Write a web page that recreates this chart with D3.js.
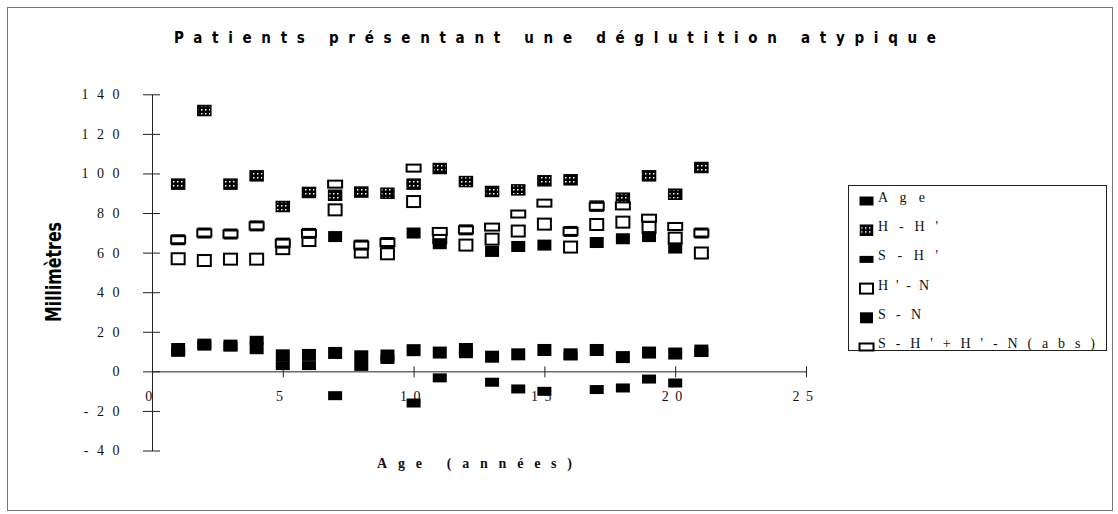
<!DOCTYPE html>
<meta charset="utf-8">
<style>
body { margin: 0; background: #fff; }
svg { display: block; }
.axis path, .axis line { stroke: #222; }
.tick text { font-family: "Liberation Serif", "Times New Roman", serif; font-size: 14px; fill: #111; }
.lab { font-family: "Liberation Serif", "Times New Roman", serif; fill: #111; }
</style>
<body>
<script src="https://d3js.org/d3.v7.min.js"></script>
<script>
var width = 1118, height = 514;

// x positions (patients, plotted against "Age")
var xAge = [1, 2, 3, 4, 5, 6, 7, 8, 9, 10, 11, 12, 13, 14, 15, 16, 17, 18, 19, 20, 21];
var xTicks = [0, 5, 10, 15, 20, 25];
var yTicks = [-40, -20, 0, 20, 40, 60, 80, 100, 120, 140];

// values (mm)
var valAge = [11.3, 13.5, 13.0, 11.7, 8.1, 8.3, 9.3, 7.6, 8.0, 10.7, 9.5, 11.3, 7.4, 8.6, 10.8, 8.6, 10.8, 7.2, 9.5, 9.0, 10.5];
var valHH = [94.6, 131.8, 94.6, 98.8, 83.3, 90.4, 89.0, 90.6, 90.0, 94.6, 102.5, 95.9, 90.9, 91.7, 96.3, 96.8, 83.5, 87.5, 98.8, 89.5, 103.0];
var valSH = [9.6, 13.2, 12.5, 15.7, 2.9, 2.9, -12.3, 2.5, 6.0, -16.0, -3.3, 8.9, -5.5, -8.9, -10.1, 7.9, -9.2, -8.4, -3.9, -5.9, 9.5];
var valHN = [56.9, 56.0, 56.7, 56.7, 62.0, 66.1, 81.6, 60.3, 59.4, 85.8, 67.5, 63.8, 66.8, 70.9, 74.4, 62.8, 74.2, 75.4, 72.7, 67.3, 59.8];
var valSN = [66.5, 69.9, 69.4, 73.5, 64.8, 69.7, 68.1, 63.8, 65.1, 69.9, 64.5, 71.5, 60.6, 63.1, 63.8, 70.7, 65.1, 67.0, 68.1, 62.3, 69.9];
var valAbs = [66.5, 69.9, 69.4, 73.5, 64.8, 69.7, 94.6, 63.8, 65.1, 102.7, 70.7, 71.5, 72.9, 79.5, 85.0, 70.7, 83.4, 83.6, 77.4, 73.2, 69.9];

var seriesNames = ["A g e", "H - H '", "S - H '", "H ' - N", "S - N", "S - H ' + H ' - N  ( a b s )"];
var seriesVals = [valAge, valHH, valSH, valHN, valSN, valAbs];

// marker look per series (same order)
var markers = [
  {w: 14, h: 12, fill: "#000", stroke: "#000", sw: 0, lw: 14, lh: 9},
  {w: 13, h: 10, fill: "url(#hatch)", stroke: "#000", sw: 1.5, lw: 12, lh: 10},
  {w: 14, h: 9, fill: "#000", stroke: "#000", sw: 0, lw: 14, lh: 7},
  {w: 13, h: 11, fill: "#fff", stroke: "#000", sw: 2, lw: 13, lh: 10},
  {w: 14, h: 11, fill: "#000", stroke: "#000", sw: 0, lw: 13, lh: 11},
  {w: 14, h: 7, fill: "#fff", stroke: "#000", sw: 2, lw: 14, lh: 7}
];
var legendWidths = [47, 60, 60, 51, 43, 217];

function spaced(d) { return String(d).split("").join(" "); }

var svg = d3.select("body").append("svg")
    .attr("width", width)
    .attr("height", height);

var pat = svg.append("defs").append("pattern")
    .attr("id", "hatch")
    .attr("width", 4).attr("height", 4)
    .attr("patternUnits", "userSpaceOnUse");
pat.append("rect").attr("width", 4).attr("height", 4).attr("fill", "#000");
pat.append("rect").attr("x", 1).attr("y", 1).attr("width", 1.5).attr("height", 1.5).attr("fill", "#fff");

// outer frame
svg.append("rect")
    .attr("x", 7.5).attr("y", 7.5)
    .attr("width", 1105).attr("height", 503)
    .attr("fill", "none")
    .attr("stroke", "#777");

var x = d3.scaleLinear().domain([0, 25]).range([152, 806]);
var y = d3.scaleLinear().domain([-40, 140]).range([450.5, 94.3]);

// y axis, ticks cross the line
var yAxis = svg.append("g")
    .attr("class", "axis")
    .attr("transform", "translate(" + x(0) + ",0)")
    .call(d3.axisLeft(y).tickValues(yTicks).tickSize(9).tickSizeOuter(0).tickPadding(21).tickFormat(spaced));
yAxis.selectAll(".tick line").attr("x1", 8);
yAxis.selectAll(".tick text").attr("letter-spacing", 2.5);

// x axis on y = 0
var xAxis = svg.append("g")
    .attr("class", "axis")
    .attr("transform", "translate(0," + y(0) + ")")
    .call(d3.axisBottom(x).tickValues(xTicks).tickSize(6).tickSizeOuter(0).tickPadding(14).tickFormat(spaced));
xAxis.selectAll(".tick line").attr("y1", -5);
xAxis.selectAll(".tick text").attr("letter-spacing", 1.5).attr("dx", -3);

// points
seriesVals.forEach(function(vals, s) {
  var m = markers[s];
  svg.append("g")
    .selectAll("rect")
    .data(xAge.map(function(a, i) { return {a: a, v: vals[i]}; }))
    .enter().append("rect")
      .attr("x", function(d) { return x(d.a) - m.w / 2; })
      .attr("y", function(d) { return y(d.v) - m.h / 2; })
      .attr("width", m.w)
      .attr("height", m.h)
      .attr("fill", m.fill)
      .attr("stroke", m.sw ? m.stroke : "none")
      .attr("stroke-width", m.sw);
});

// legend
var lg = svg.append("g");
lg.append("rect")
    .attr("x", 848.5).attr("y", 185.5)
    .attr("width", 258).attr("height", 165)
    .attr("fill", "#fff")
    .attr("stroke", "#222");

var item = lg.selectAll(".item")
  .data(seriesNames)
  .enter().append("g")
    .attr("class", "item")
    .attr("transform", function(d, i) { return "translate(0," + (197 + i * 29.2) + ")"; });

item.append("rect")
    .attr("x", function(d, i) { return 866.5 - markers[i].lw / 2; })
    .attr("y", function(d, i) { return 4 - markers[i].lh / 2; })
    .attr("width", function(d, i) { return markers[i].lw; })
    .attr("height", function(d, i) { return markers[i].lh; })
    .attr("fill", function(d, i) { return markers[i].fill; })
    .attr("stroke", function(d, i) { return markers[i].sw ? markers[i].stroke : "none"; })
    .attr("stroke-width", function(d, i) { return markers[i].sw; });

item.append("text")
    .attr("class", "lab")
    .attr("x", 878)
    .attr("y", 5)
    .attr("font-size", 14)
    .attr("textLength", function(d, i) { return legendWidths[i]; })
    .attr("lengthAdjust", "spacing")
    .text(function(d) { return d; });

// titles
svg.append("text")
    .attr("x", 174)
    .attr("y", 43)
    .attr("font-family", "'Liberation Sans Narrow', 'DejaVu Sans Condensed', sans-serif")
    .attr("font-weight", "bold")
    .attr("font-size", 15)
    .attr("textLength", 762)
    .attr("lengthAdjust", "spacing")
    .text("Patients présentant une déglutition atypique");

svg.append("text")
    .attr("class", "lab")
    .attr("x", 377)
    .attr("y", 468)
    .attr("font-weight", "bold")
    .attr("font-size", 14)
    .attr("textLength", 195)
    .attr("lengthAdjust", "spacing")
    .text("Age (années)");

svg.append("text")
    .attr("transform", "translate(61,272) rotate(-90)")
    .attr("text-anchor", "middle")
    .attr("font-family", "'Liberation Sans Narrow', 'DejaVu Sans Condensed', sans-serif")
    .attr("font-weight", "bold")
    .attr("font-size", 22)
    .attr("textLength", 100)
    .attr("lengthAdjust", "spacingAndGlyphs")
    .text("Millimètres");
</script>
</body>
